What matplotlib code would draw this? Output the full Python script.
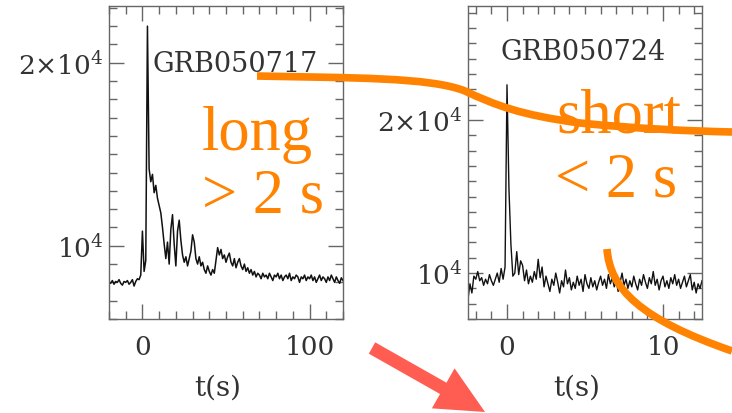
import numpy as np
import matplotlib
matplotlib.use("Agg")
import matplotlib.pyplot as plt
from matplotlib.ticker import MultipleLocator, FuncFormatter
from matplotlib.path import Path
from matplotlib.patches import PathPatch, FancyArrow

# GRB050717 light curve, 1 s bins starting at t = -20 s (counts)
long_t0, long_dt = -20.0, 1.0
long_counts = [
    8000, 7950, 8100, 7900, 8050, 8000, 8150, 7950, 7850, 8050,
    8000, 8100, 7900, 8000, 8150, 7800, 8050, 8200, 8150, 8400,
    10800, 8600, 9200, 22000, 14200, 13500, 13900, 12900, 13300, 12600, 12200,
    11800, 11000, 10100, 9300, 10200, 9000, 10900, 11700, 10100, 8900,
    10800, 11400, 10300, 9500, 9100, 9400, 8900, 9300, 9700, 10600,
    10200, 9300, 9000, 9400, 8900, 9100, 8700, 8500, 8900, 8600,
    8400, 8700, 8500, 9200, 9900, 9500, 9800, 9300, 9500, 9100,
    9400, 9600, 9100, 8900, 9300, 8800, 9100, 9300, 8900, 8700,
    9000, 8600, 8800, 8500, 8700, 8400, 8600, 8300, 8500, 8400,
    8200, 8500, 8300, 8400, 8200, 8500, 8300, 8100, 8400, 8300,
    8500, 8200, 8400, 8100, 8300, 8400, 8200, 8500, 8100, 8300,
    8200, 8400, 8300, 8000, 8300, 8200, 8400, 8100, 8300, 8200,
    8400, 8100, 8300, 8000, 8200, 8400, 8100, 8300, 8200, 8000,
    8300, 8100, 8400, 8200, 8000, 8300, 8100, 7950, 8250, 8100,
]

# GRB050724 light curve, 0.125 s bins starting at t = -2.5 s (counts)
short_t0, short_dt = -2.5, 0.125
short_counts = [
    8300, 9300, 8700, 9800, 9600, 10100, 9500, 9700, 9200, 9600,
    9300, 9900, 9500, 9200, 9600, 10000, 9400, 10300, 9600, 10400,
    22300, 15500, 11900, 9800, 10000, 11400, 9900, 10800, 10500, 9500,
    10200, 9300, 9800, 9400, 10100, 9600, 10900, 9700, 10400, 9100,
    9800, 9300, 8800, 9600, 9200, 10000, 9400, 8700, 9500, 9100,
    10200, 9300, 9700, 8900, 9400, 9000, 9800, 9200, 9600, 8800,
    9900, 9300, 9000, 9700, 9100, 9500, 8900, 9400, 9800, 9200,
    9600, 9000, 9900, 9300, 9700, 9100, 9500, 8800, 9400, 10000,
    9200, 9600, 9000, 9500, 9100, 9800, 9300, 8900, 9600, 9200,
    9900, 9400, 9000, 9700, 9300, 10100, 9200, 9600, 8900, 9500,
    9800, 9100, 9500, 9000, 9700, 9300, 9900, 9200, 9600, 9000,
    9400, 9800, 9100, 9500, 9900, 8900, 9400, 8700, 9300, 9000,
    9500,
]

panel_names = ["GRB050717", "GRB050724"]
class_words = ["long", "short"]
class_limits = ["> 2 s", "< 2 s"]

# orange sketch curves and red arrow, in figure pixels (x right, y down)
sweep_upper = [(257, 77), (350, 79), (430, 78), (465, 92),
               (495, 106), (520, 116), (580, 124),
               (640, 130), (690, 132), (732, 133)]
sweep_lower = [(607, 250), (610, 290), (640, 320), (732, 352)]
arrow_tail = (372, 349)
arrow_tip = (485, 413)

W, H = 732, 414
fig = plt.figure(figsize=(W / 100, H / 100), dpi=100)
plt.rcParams["mathtext.fontset"] = "dejavuserif"

ink = "#333333"
serif = "DejaVu Serif"


def ylab(v, pos):
    if abs(v - 10000) < 1:
        return r"$10^4$"
    if abs(v - 20000) < 1:
        return r"$2{\times}10^4$"
    return ""


def setup(ax, xlim, ylim, xmaj, xmin):
    ax.set_xlim(*xlim)
    ax.set_ylim(*ylim)
    ax.xaxis.set_major_locator(MultipleLocator(xmaj))
    ax.xaxis.set_minor_locator(MultipleLocator(xmin))
    ax.yaxis.set_major_locator(MultipleLocator(10000))
    ax.yaxis.set_minor_locator(MultipleLocator(1000))
    ax.yaxis.set_major_formatter(FuncFormatter(ylab))
    ax.tick_params(which="both", direction="in", top=True, right=True,
                   color="#666666", width=1.0, labelcolor=ink)
    ax.tick_params(which="major", length=11)
    ax.tick_params(which="minor", length=5.5)
    ax.tick_params(axis="x", which="major", pad=11, labelsize=19)
    ax.tick_params(axis="y", which="major", pad=4, labelsize=19)
    for lab in ax.get_xticklabels() + ax.get_yticklabels():
        lab.set_family(serif)
    for s in ax.spines.values():
        s.set_color("#666666")
        s.set_linewidth(1.0)
    ax.set_xlabel("t(s)", fontsize=20, family=serif, color=ink)


# left panel: long burst
ax1 = fig.add_axes([109 / W, 1 - 320 / H, 234 / W, 313 / H])
t_long = long_t0 + long_dt * np.arange(len(long_counts))
ax1.plot(t_long, long_counts, color="#111111", lw=1.1)
setup(ax1, (-20, 120), (6000, 23100), 100, 10)
ax1.xaxis.set_label_coords(0.466, -0.175)
ax1.text(0.184, 0.815, panel_names[0], transform=ax1.transAxes,
         fontsize=19.5, family=serif, color=ink, va="center", ha="left")

# right panel: short burst
ax2 = fig.add_axes([468 / W, 1 - 320 / H, 234 / W, 313 / H])
t_short = short_t0 + short_dt * np.arange(len(short_counts))
ax2.plot(t_short, short_counts, color="#111111", lw=1.0)
setup(ax2, (-2.5, 12.5), (7000, 27450), 10, 1)
ax2.xaxis.set_label_coords(0.466, -0.175)
ax2.text(0.137, 0.856, panel_names[1], transform=ax2.transAxes,
         fontsize=19.5, family=serif, color=ink, va="center", ha="left")

# overlay in pixel units for the hand-drawn annotations
ov = fig.add_axes([0, 0, 1, 1], zorder=10)
ov.set_xlim(0, W)
ov.set_ylim(H, 0)
ov.axis("off")
ov.patch.set_alpha(0)

orange = "#FF8200"
tf = dict(fontsize=45, family="Liberation Serif", color=orange, va="baseline", ha="left")
ov.text(202, 150, class_words[0], **tf)
ov.text(202, 213, class_limits[0], **tf)
ov.text(556, 133, class_words[1], **tf)
ov.text(555, 197, class_limits[1], **tf)

codes = [Path.MOVETO] + [Path.CURVE4] * (len(sweep_upper) - 1)
ov.add_patch(PathPatch(Path(sweep_upper, codes), fill=False, edgecolor=orange,
                       lw=5.5, capstyle="butt"))
codes = [Path.MOVETO] + [Path.CURVE4] * (len(sweep_lower) - 1)
ov.add_patch(PathPatch(Path(sweep_lower, codes), fill=False, edgecolor=orange,
                       lw=5.5, capstyle="butt"))

dx = arrow_tip[0] - arrow_tail[0]
dy = arrow_tip[1] - arrow_tail[1]
ov.add_patch(FancyArrow(arrow_tail[0], arrow_tail[1], dx, dy, width=13,
                        head_width=46, head_length=48, length_includes_head=True,
                        color="#FF5C52", lw=0))

fig.savefig("out.png", dpi=100)
